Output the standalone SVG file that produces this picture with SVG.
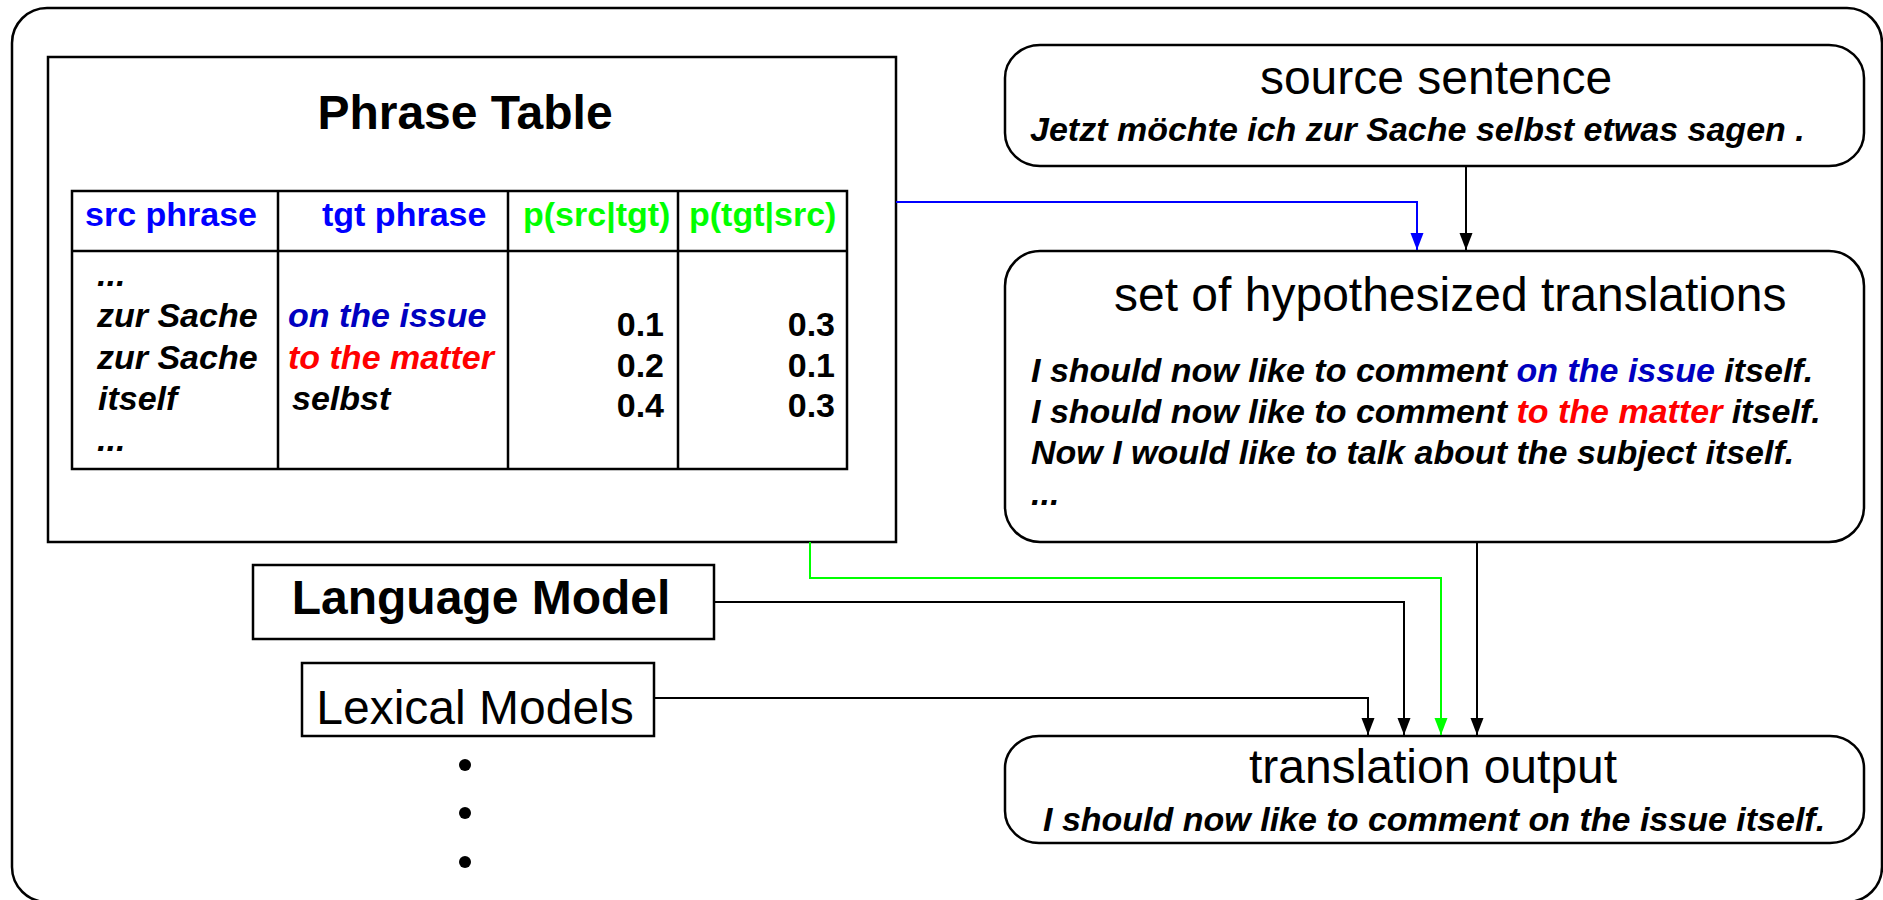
<svg xmlns="http://www.w3.org/2000/svg" width="1883" height="900" viewBox="0 0 1883 900">
  <style>
    .box { fill: #ffffff; stroke: #000000; stroke-width: 2.5; }
    .grid { fill: none; stroke: #000000; stroke-width: 2.5; }
    .t { font-family: "Liberation Sans", Arial, sans-serif; fill: #000000; }
    .big { font-size: 48px; }
    .b { font-weight: bold; }
    .bi { font-weight: bold; font-style: italic; font-size: 34px; }
    .hdr { font-weight: bold; font-size: 34px; }
    .num { font-weight: bold; font-size: 34px; text-anchor: end; }
    .blue { fill: #0000ff; }
    .navy { fill: #0000c0; }
    .red { fill: #ff0000; }
    .green { fill: #00ff00; }
    .wire { fill: none; stroke-width: 2; }
  </style>
  <defs>
    <marker id="ahBlack" markerUnits="userSpaceOnUse" markerWidth="18" markerHeight="14" refX="17" refY="6.5" orient="auto">
      <path d="M0,0 L17,6.5 L0,13 Z" fill="#000000"/>
    </marker>
    <marker id="ahBlue" markerUnits="userSpaceOnUse" markerWidth="18" markerHeight="14" refX="17" refY="6.5" orient="auto">
      <path d="M0,0 L17,6.5 L0,13 Z" fill="#0000ff"/>
    </marker>
    <marker id="ahGreen" markerUnits="userSpaceOnUse" markerWidth="18" markerHeight="14" refX="17" refY="6.5" orient="auto">
      <path d="M0,0 L17,6.5 L0,13 Z" fill="#00ff00"/>
    </marker>
  </defs>

  <rect width="1883" height="900" fill="#ffffff"/>

  <!-- outer frame -->
  <rect id="frame" x="12" y="8" width="1870" height="894" rx="35" ry="35" class="box" stroke-width="2"/>

  <!-- phrase table -->
  <g id="phrase-table">
    <rect x="48" y="57" width="848" height="485" class="box"/>
    <text x="465" y="129" class="t big b" text-anchor="middle">Phrase Table</text>
    <rect x="72" y="191" width="775" height="278" class="grid"/>
    <line x1="72" y1="251" x2="847" y2="251" class="grid"/>
    <line x1="278" y1="191" x2="278" y2="469" class="grid"/>
    <line x1="508" y1="191" x2="508" y2="469" class="grid"/>
    <line x1="678" y1="191" x2="678" y2="469" class="grid"/>
    <text x="85" y="226" class="t hdr blue">src phrase</text>
    <text x="322" y="226" class="t hdr blue">tgt phrase</text>
    <text x="523" y="226" class="t hdr green">p(src|tgt)</text>
    <text x="689" y="226" class="t hdr green">p(tgt|src)</text>
    <text x="97" y="286" class="t bi">...</text>
    <text x="97" y="327" class="t bi">zur Sache</text>
    <text x="97" y="369" class="t bi">zur Sache</text>
    <text x="98" y="410" class="t bi">itself</text>
    <text x="97" y="451" class="t bi">...</text>
    <text x="288" y="327" class="t bi navy">on the issue</text>
    <text x="288" y="369" class="t bi red">to the matter</text>
    <text x="292" y="410" class="t bi">selbst</text>
    <text x="664" y="336" class="t num">0.1</text>
    <text x="664" y="377" class="t num">0.2</text>
    <text x="664" y="417" class="t num">0.4</text>
    <text x="835" y="336" class="t num">0.3</text>
    <text x="835" y="377" class="t num">0.1</text>
    <text x="835" y="417" class="t num">0.3</text>
  </g>

  <!-- language model -->
  <g id="language-model">
    <rect x="253" y="565" width="461" height="74" class="box"/>
    <text x="481" y="614" class="t big b" text-anchor="middle">Language Model</text>
  </g>

  <!-- lexical models -->
  <g id="lexical-models">
    <rect x="302" y="663" width="352" height="73" class="box"/>
    <text x="475" y="724" class="t big" text-anchor="middle">Lexical Models</text>
  </g>

  <!-- further models -->
  <g id="more-models">
    <circle cx="465" cy="765" r="6" fill="#000000"/>
    <circle cx="465" cy="813" r="6" fill="#000000"/>
    <circle cx="465" cy="862" r="6" fill="#000000"/>
  </g>

  <!-- source sentence -->
  <g id="source-sentence">
    <rect x="1005" y="45" width="859" height="121" rx="35" ry="33" class="box"/>
    <text x="1436" y="94" class="t big" text-anchor="middle">source sentence</text>
    <text x="1030" y="141" class="t bi">Jetzt möchte ich zur Sache selbst etwas sagen .</text>
  </g>

  <!-- hypotheses -->
  <g id="hypotheses">
    <rect x="1005" y="251" width="859" height="291" rx="35" ry="35" class="box"/>
    <text x="1114" y="311" class="t big">set of hypothesized translations</text>
    <text x="1031" y="382" class="t bi">I should now like to comment <tspan class="navy">on the issue</tspan> itself.</text>
    <text x="1031" y="423" class="t bi">I should now like to comment <tspan class="red">to the matter</tspan> itself.</text>
    <text x="1031" y="464" class="t bi">Now I would like to talk about the subject itself.</text>
    <text x="1031" y="505" class="t bi">...</text>
  </g>

  <!-- translation output -->
  <g id="translation-output">
    <rect x="1005" y="736" width="859" height="107" rx="34" ry="32" class="box"/>
    <text x="1433" y="783" class="t big" text-anchor="middle">translation output</text>
    <text x="1043" y="831" class="t bi">I should now like to comment on the issue itself.</text>
  </g>

  <!-- connectors -->
  <g id="connectors">
    <polyline points="896,202 1417,202 1417,250" class="wire" stroke="#0000ff" marker-end="url(#ahBlue)"/>
    <line x1="1466" y1="166" x2="1466" y2="250" class="wire" stroke="#000000" marker-end="url(#ahBlack)"/>
    <polyline points="810,542 810,578 1441,578 1441,735" class="wire" stroke="#00ff00" marker-end="url(#ahGreen)"/>
    <polyline points="714,602 1404,602 1404,735" class="wire" stroke="#000000" marker-end="url(#ahBlack)"/>
    <polyline points="654,698 1368,698 1368,735" class="wire" stroke="#000000" marker-end="url(#ahBlack)"/>
    <line x1="1477" y1="542" x2="1477" y2="735" class="wire" stroke="#000000" marker-end="url(#ahBlack)"/>
  </g>
</svg>
